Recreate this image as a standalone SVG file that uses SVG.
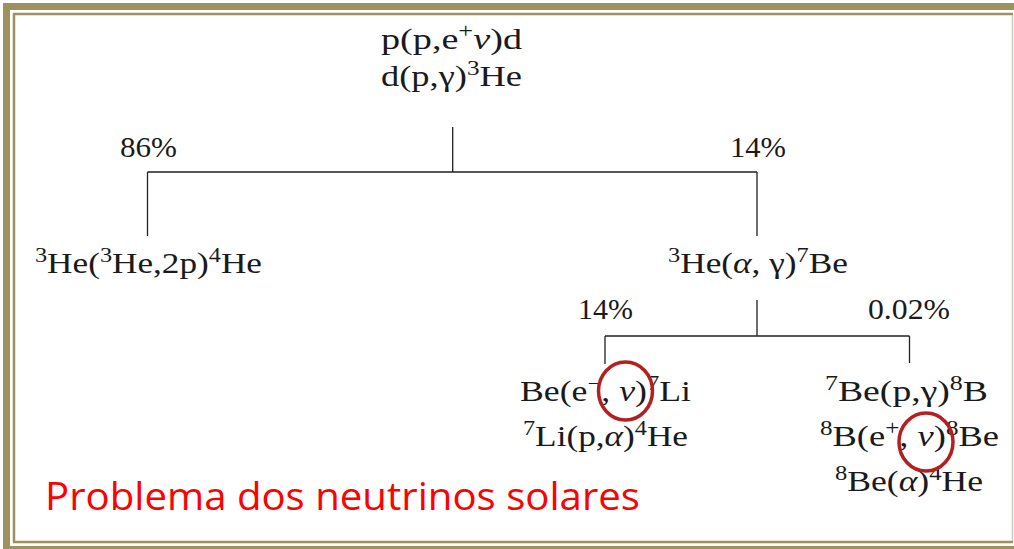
<svg xmlns="http://www.w3.org/2000/svg" width="1014" height="549" viewBox="0 0 1014 549">
<style>
.t{font-family:"Liberation Serif","DejaVu Serif",serif;font-size:29px;fill:#1a1a1a}
.s{font-size:20px}
.i{font-style:italic}
.c{fill:none;stroke:#b51f1f;stroke-width:3.5}
.ln{stroke:#222;stroke-width:1.3;fill:none}
.red{font-family:"Open Sans","Liberation Sans",sans-serif;font-size:38px;fill:#ff0000}
.olive{fill:none;stroke:#9d915f}
</style>
<rect width="1014" height="549" fill="#ffffff"/>
<g id="frame">
  <rect class="olive" x="6.5" y="6.5" width="1030" height="543" stroke-width="7"/>
  <path class="olive" d="M14 1013 M14 542 V14 H1013 M13 542 H1013" stroke-width="2.5"/>
  <path d="M1012.5 15 V541" stroke="#c8c8bc" stroke-width="1.5" fill="none"/>
</g>
<g id="connectors">
  <path class="ln" d="M452.7 127 V172 M147.5 172 H757 M147.5 172 V236 M757 172 V236"/>
  <path class="ln" d="M757 300 V336 M605 336 H909.5 M605 336 V364 M909.5 336 V363"/>
</g>
<g id="node-pp">
  <text class="t" x="381" y="49" textLength="141" lengthAdjust="spacingAndGlyphs">p(p,e<tspan class="s" dy="-11">+</tspan><tspan class="i" dy="11">ν</tspan>)d</text>
  <text class="t" x="381" y="86" textLength="141" lengthAdjust="spacingAndGlyphs">d(p,γ)<tspan class="s" dy="-11">3</tspan><tspan dy="11">He</tspan></text>
</g>
<g id="label-86">
  <text class="t" x="120" y="157" textLength="57" lengthAdjust="spacingAndGlyphs">86%</text>
</g>
<g id="label-14a">
  <text class="t" x="730" y="157" textLength="56" lengthAdjust="spacingAndGlyphs">14%</text>
</g>
<g id="node-he3he3">
  <text class="t" x="35" y="273" textLength="227" lengthAdjust="spacingAndGlyphs"><tspan class="s" dy="-11">3</tspan><tspan dy="11">He(</tspan><tspan class="s" dy="-11">3</tspan><tspan dy="11">He,2p)</tspan><tspan class="s" dy="-11">4</tspan><tspan dy="11">He</tspan></text>
</g>
<g id="node-he3he4">
  <text class="t" x="668" y="273" textLength="180" lengthAdjust="spacingAndGlyphs"><tspan class="s" dy="-11">3</tspan><tspan dy="11">He(</tspan><tspan class="i">α</tspan>, γ)<tspan class="s" dy="-11">7</tspan><tspan dy="11">Be</tspan></text>
</g>
<g id="label-14b">
  <text class="t" x="578" y="319" textLength="55" lengthAdjust="spacingAndGlyphs">14%</text>
</g>
<g id="label-002">
  <text class="t" x="868" y="319" textLength="82" lengthAdjust="spacingAndGlyphs">0.02%</text>
</g>
<g id="node-be7e">
  <text class="t" x="520" y="401" textLength="171" lengthAdjust="spacingAndGlyphs">Be(e<tspan class="s" dy="-11">−</tspan><tspan dy="11">, </tspan><tspan class="i">ν</tspan>)<tspan class="s" dy="-11">7</tspan><tspan dy="11">Li</tspan></text>
  <text class="t" x="523" y="446" textLength="165" lengthAdjust="spacingAndGlyphs"><tspan class="s" dy="-11">7</tspan><tspan dy="11">Li(p,</tspan><tspan class="i">α</tspan>)<tspan class="s" dy="-11">4</tspan><tspan dy="11">He</tspan></text>
  <ellipse class="c" cx="625.5" cy="391" rx="27" ry="29"/>
</g>
<g id="node-be7p">
  <text class="t" x="825" y="401" textLength="163" lengthAdjust="spacingAndGlyphs"><tspan class="s" dy="-11">7</tspan><tspan dy="11">Be(p,γ)</tspan><tspan class="s" dy="-11">8</tspan><tspan dy="11">B</tspan></text>
  <text class="t" x="820" y="446" textLength="179" lengthAdjust="spacingAndGlyphs"><tspan class="s" dy="-11">8</tspan><tspan dy="11">B(e</tspan><tspan class="s" dy="-11">+</tspan><tspan dy="11">, </tspan><tspan class="i">ν</tspan>)<tspan class="s" dy="-11">8</tspan><tspan dy="11">Be</tspan></text>
  <text class="t" x="835" y="491" textLength="148" lengthAdjust="spacingAndGlyphs"><tspan class="s" dy="-11">8</tspan><tspan dy="11">Be(</tspan><tspan class="i">α</tspan>)<tspan class="s" dy="-11">4</tspan><tspan dy="11">He</tspan></text>
  <ellipse class="c" cx="926" cy="442" rx="27" ry="29"/>
</g>
<g id="title">
  <text class="red" x="45" y="510" textLength="595" lengthAdjust="spacingAndGlyphs">Problema dos neutrinos solares</text>
</g>
</svg>
